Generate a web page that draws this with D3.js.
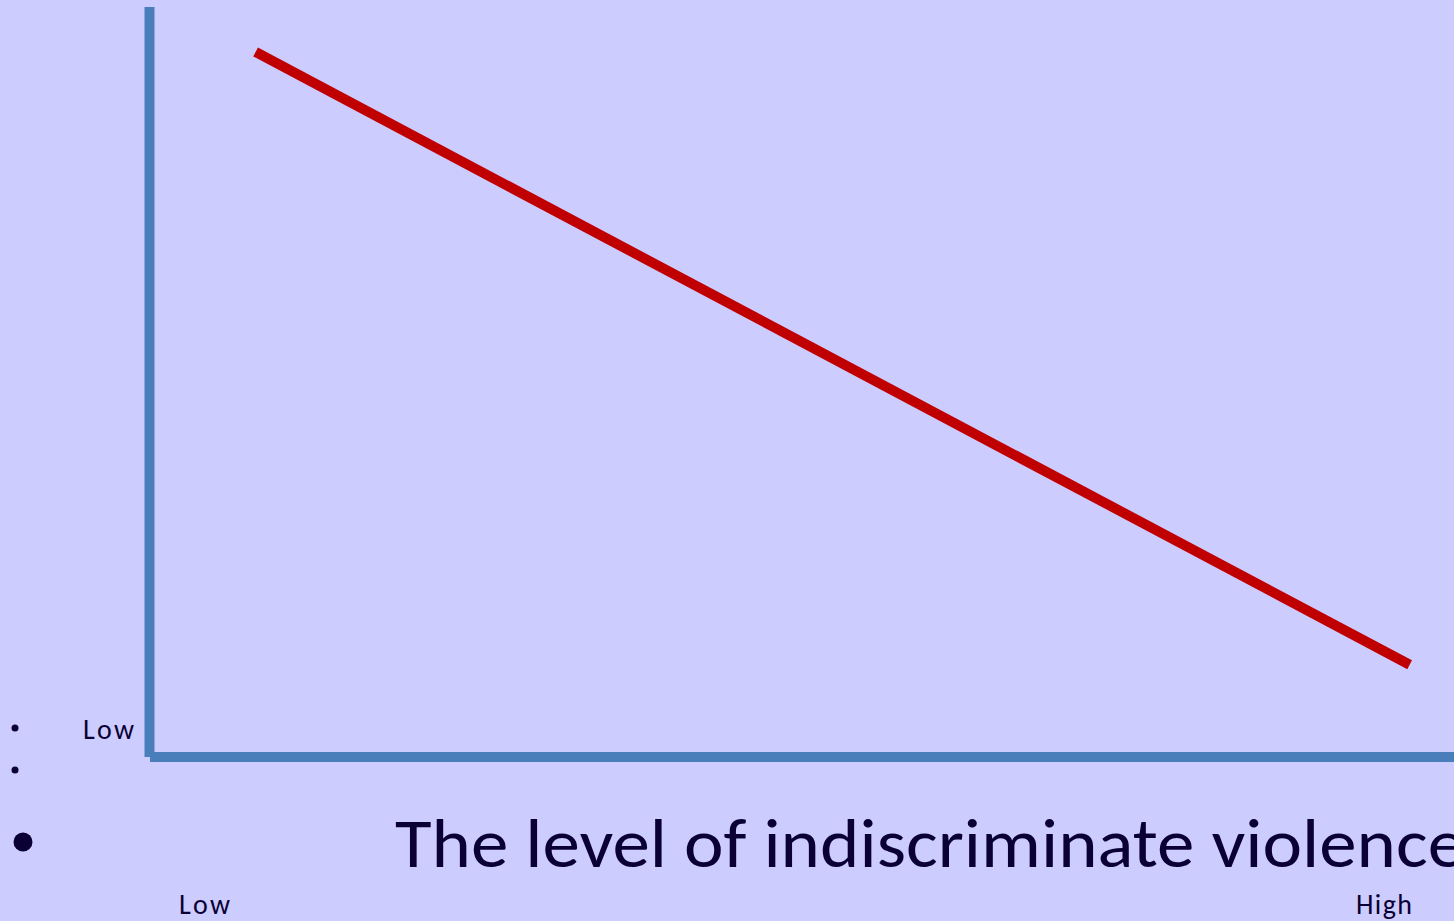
<!DOCTYPE html>
<html>
<head>
<meta charset="utf-8">
<script src="https://cdn.jsdelivr.net/npm/d3@7"></script>
<style>
  html, body { margin: 0; padding: 0; background: #ccccff; overflow: hidden; }
  text { font-family: Carlito, Lato, "Open Sans", sans-serif; fill: #0a0033; }
</style>
</head>
<body>
<div class="chart"></div>
<script>
// level of indiscriminate violence (0 = low, 1 = high)
const violence = [0.081, 0.966];
// outcome on the vertical axis
const outcome = [0.94, 0.123];
const xEnds = ["Low", "High"];
const yLabel = "Low";
const title = "The level of indiscriminate violence";
const bulletSizes = [3.5, 3.5, 9.5];

let width = 1454, height = 921;
let svg = d3.select(".chart").append("svg")
            .attr("width", width)
            .attr("height", height);
svg.append("rect")
   .attr("width", width)
   .attr("height", height)
   .attr("fill", "#ccccff");

let xScale = d3.scaleLinear().domain([0, 1]).range([150, 1454]);
let yScale = d3.scaleLinear().domain([0, 1]).range([757, 7]);

// axes
svg.append("line")
   .attr("x1", xScale(0)).attr("x2", xScale(0))
   .attr("y1", yScale(1)).attr("y2", yScale(0))
   .attr("stroke", "#4a7ebb").attr("stroke-width", 10)
   .attr("transform", "translate(-0.5,0)");
svg.append("line")
   .attr("x1", xScale(0)).attr("x2", xScale(1))
   .attr("y1", yScale(0)).attr("y2", yScale(0))
   .attr("stroke", "#4a7ebb").attr("stroke-width", 10);

// the red line
let pts = violence.map((v, i) => [v, outcome[i]]);
svg.append("path")
   .datum(pts)
   .attr("d", d3.line().x(d => xScale(d[0])).y(d => yScale(d[1])))
   .attr("fill", "none")
   .attr("stroke", "#c00000")
   .attr("stroke-width", 10);

// labels
svg.append("text")
   .attr("x", 134).attr("y", 739)
   .attr("text-anchor", "end")
   .attr("textLength", 51)
   .style("font-size", "28px")
   .text(yLabel);
svg.append("text")
   .attr("x", 179).attr("y", 914)
   .attr("textLength", 51)
   .style("font-size", "28px")
   .text(xEnds[0]);
svg.append("text")
   .attr("x", 1356).attr("y", 914)
   .attr("textLength", 56)
   .style("font-size", "28px")
   .text(xEnds[1]);
svg.append("text")
   .attr("x", 395).attr("y", 867)
   .attr("textLength", 1070)
   .attr("lengthAdjust", "spacingAndGlyphs")
   .style("font-size", "70px")
   .text(title);

// bullets
let bulletPos = [[15, 728], [15, 770], [23, 842]];
svg.selectAll(".bullet")
   .data(bulletSizes)
   .enter()
   .append("circle")
   .attr("class", "bullet")
   .attr("cx", (d, i) => bulletPos[i][0])
   .attr("cy", (d, i) => bulletPos[i][1])
   .attr("r", d => d)
   .attr("fill", "#0a0033");
</script>
</body>
</html>
